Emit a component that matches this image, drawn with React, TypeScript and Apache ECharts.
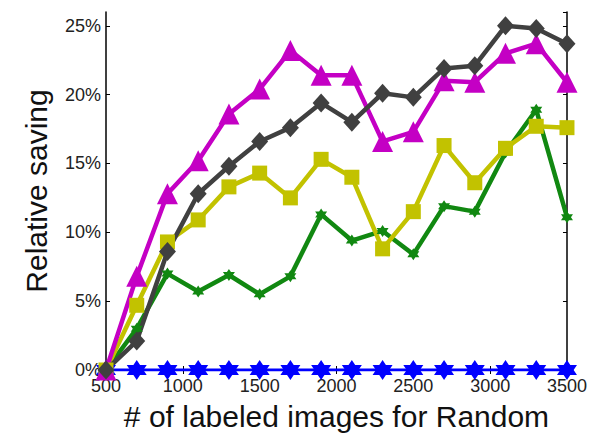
import React, { useEffect, useRef } from "react";
import * as echarts from "echarts";

const xValues = [500, 700, 900, 1100, 1300, 1500, 1700, 1900, 2100, 2300, 2500, 2700, 2900, 3100, 3300, 3500];
const blueSeries = [0, 0, 0, 0, 0, 0, 0, 0, 0, 0, 0, 0, 0, 0, 0, 0];
const greenSeries = [0, 3.0, 7.0, 5.7, 6.9, 5.5, 6.8, 11.3, 9.4, 10.1, 8.4, 11.9, 11.5, 15.8, 18.9, 11.1];
const yellowSeries = [0, 4.7, 9.3, 10.9, 13.3, 14.3, 12.5, 15.3, 14.0, 8.8, 11.5, 16.3, 13.6, 16.1, 17.7, 17.6];
const magentaSeries = [0, 6.8, 12.8, 15.2, 18.6, 20.4, 23.2, 21.4, 21.4, 16.6, 17.3, 21.0, 20.9, 23.0, 23.7, 20.9];
const graySeries = [0, 2.1, 8.6, 12.8, 14.8, 16.6, 17.6, 19.4, 18.0, 20.1, 19.8, 21.9, 22.1, 25.0, 24.8, 23.7];

const xTicks = [500, 1000, 1500, 2000, 2500, 3000, 3500];

const hexagram =
  "path://M10 0 L12.885 5 L18.66 5 L15.77 10 L18.66 15 L12.885 15 L10 20 L7.115 15 L1.34 15 L4.23 10 L1.34 5 L7.115 5 Z";

const pairs = (ys: number[]) => xValues.map((x, i) => [x, ys[i]]);

export default function App() {
  const ref = useRef<HTMLDivElement>(null);
  useEffect(() => {
    if (!ref.current) return;
    const chart = echarts.init(ref.current, null, { renderer: "svg" });
    const font = "'Liberation Sans', Arial, Helvetica, sans-serif";
    const axisCommon = {
      axisLine: { show: true, lineStyle: { color: "#000", width: 1.5 } },
      axisTick: { show: true, inside: true, length: 4, lineStyle: { color: "#000", width: 1 } },
      splitLine: { show: false },
    };
    const mk = (name: string, data: number[], color: string, symbol: string, size: number | number[], width: number) => ({
      name,
      type: "line",
      data: pairs(data),
      symbol,
      symbolSize: size,
      lineStyle: { color, width },
      itemStyle: { color, borderColor: color, borderWidth: 0 },
      showAllSymbol: true,
    });
    chart.setOption({
      animation: false,
      backgroundColor: "#fff",
      grid: { left: 106, right: 23, top: 12, bottom: 64 },
      xAxis: [
        {
          type: "value",
          min: 500,
          max: 3500,
          interval: 500,
          ...axisCommon,
          axisLabel: {
            color: "#222",
            fontSize: 18,
            fontFamily: font,
            margin: 7,
            customValues: xTicks,
            formatter: (v: number) => `${v}`,
          },
          axisTick: { ...axisCommon.axisTick, customValues: xTicks },
          name: "# of labeled images for Random",
          nameLocation: "middle",
          nameGap: 31,
          nameTextStyle: { color: "#111", fontSize: 30, fontFamily: font },
        },
        {
          type: "value",
          position: "top",
          min: 500,
          max: 3500,
          interval: 500,
          ...axisCommon,
          axisLabel: { show: false },
        },
      ],
      yAxis: [
        {
          type: "value",
          min: 0,
          max: 26,
          interval: 5,
          ...axisCommon,
          axisLabel: {
            color: "#222",
            fontSize: 18,
            fontFamily: font,
            margin: 5,
            formatter: (v: number) => `${v}%`,
          },
          name: "Relative saving",
          nameLocation: "middle",
          nameGap: 55,
          nameTextStyle: { color: "#111", fontSize: 30, fontFamily: font },
        },
        {
          type: "value",
          position: "right",
          min: 0,
          max: 26,
          interval: 5,
          ...axisCommon,
          axisLabel: { show: false },
        },
      ],
      series: [
        mk("blue", blueSeries, "#0000ff", hexagram, 20, 3),
        mk("green", greenSeries, "#118811", hexagram, 12, 4.5),
        mk("yellow", yellowSeries, "#c2c200", "rect", 15, 4.5),
        mk("magenta", magentaSeries, "#c400c4", "triangle", 21, 4.5),
        mk("gray", graySeries, "#404040", "diamond", [17, 19], 4.5),
      ],
    });
    return () => chart.dispose();
  }, []);
  return <div ref={ref} style={{ width: 590, height: 436, position: "absolute", left: 0, top: 0 }} />;
}
